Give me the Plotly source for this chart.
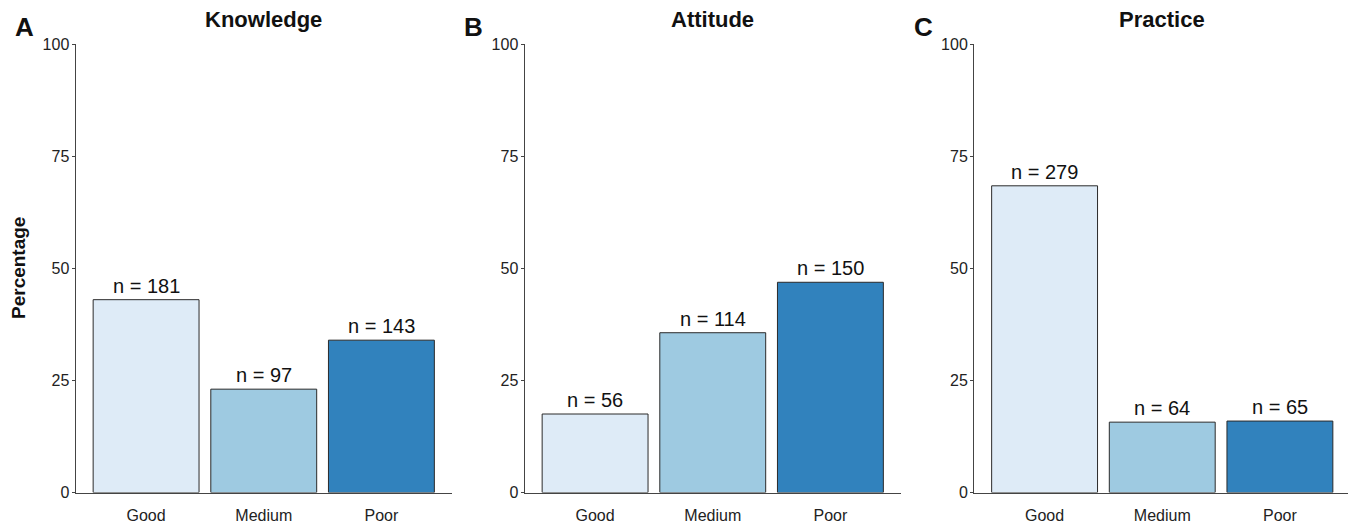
import plotly.graph_objects as go

categories = ["Good", "Medium", "Poor"]
panel_titles = ["Knowledge", "Attitude", "Practice"]
panel_letters = ["A", "B", "C"]
counts = {
    "Knowledge": [181, 97, 143],
    "Attitude": [56, 114, 150],
    "Practice": [279, 64, 65],
}
colors = ["#DEEBF7", "#9ECAE1", "#3182BD"]
y_ticks = [0, 25, 50, 75, 100]

OFF = 8  # page body margin
W, H = 1356 - OFF, 525 - OFF
FONT = "Liberation Sans, Arial, sans-serif"


def px(xp):
    return (xp - OFF) / W


def py(yp):
    return 1 - (yp - OFF) / H


fig = go.Figure()

panel_left = [75.5, 524.5, 974]
panel_w = 376.5
y_dom = [py(492.5), py(44)]

for i, name in enumerate(panel_titles):
    n = counts[name]
    total = sum(n)
    pct = [v / total * 100 for v in n]
    ax = "" if i == 0 else str(i + 1)
    fig.add_trace(go.Bar(
        x=categories, y=pct, width=0.9,
        marker=dict(color=colors, line=dict(color="#2a2a2a", width=1)),
        xaxis="x" + ax, yaxis="y" + ax, showlegend=False, hoverinfo="skip",
    ))
    fig.update_layout(**{
        "xaxis" + ax: dict(
            domain=[px(panel_left[i]), px(panel_left[i] + panel_w)],
            range=[-0.6, 2.6], anchor="y" + ax,
            showline=True, linecolor="#444444", linewidth=1,
            ticks="", showgrid=False, zeroline=False, automargin=False,
            ticklabelstandoff=8,
            tickfont=dict(family=FONT, size=16, color="#222222"),
            fixedrange=True,
        ),
        "yaxis" + ax: dict(
            domain=y_dom, range=[0, 100], anchor="x" + ax,
            tickvals=y_ticks, ticks="outside", ticklen=3, tickcolor="#444444",
            showline=True, linecolor="#444444", linewidth=1,
            showgrid=False, zeroline=False, automargin=False,
            ticklabelstandoff=-1,
            tickfont=dict(family=FONT, size=16, color="#222222"),
            fixedrange=True,
        ),
    })
    for c, v, p in zip(categories, n, pct):
        fig.add_annotation(
            x=c, y=p, xref="x" + ax, yref="y" + ax,
            text=f"n = {v}", showarrow=False, yanchor="bottom", yshift=1,
            font=dict(family=FONT, size=20, color="#111111"),
        )
    fig.add_annotation(
        x=px(panel_left[i] + panel_w / 2), y=py(20),
        xref="paper", yref="paper", text=f"<b>{name}</b>", showarrow=False,
        xanchor="center", yanchor="middle",
        font=dict(family=FONT, size=22, color="#111111"),
    )
    fig.add_annotation(
        x=px(panel_left[i] - 51), y=py(27),
        xref="paper", yref="paper", text=f"<b>{panel_letters[i]}</b>",
        showarrow=False, xanchor="center", yanchor="middle",
        font=dict(family=FONT, size=26, color="#111111"),
    )

fig.add_annotation(
    x=px(18), y=py(268), xref="paper", yref="paper",
    text="<b>Percentage</b>", showarrow=False, textangle=-90,
    xanchor="center", yanchor="middle",
    font=dict(family=FONT, size=19, color="#111111"),
)

fig.update_layout(
    width=W, height=H, margin=dict(l=0, r=0, t=0, b=0),
    paper_bgcolor="white", plot_bgcolor="white", bargap=0.1,
)

fig.write_html("out.html")
